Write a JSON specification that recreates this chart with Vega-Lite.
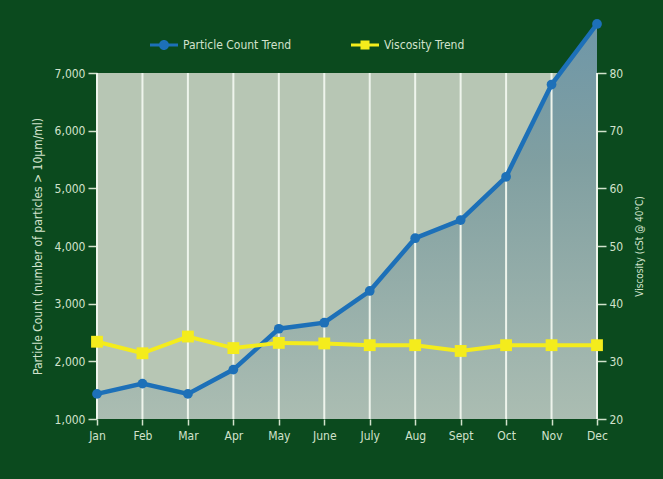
{
  "$schema": "https://vega.github.io/schema/vega-lite/v6.json",
  "width": 500,
  "height": 346,
  "autosize": {"type": "none"},
  "padding": {"left": 97, "top": 73, "right": 66, "bottom": 60},
  "datasets": {
    "trend": [
      {"month": "Jan", "particle": 1435, "viscosity": 33.4},
      {"month": "Feb", "particle": 1614, "viscosity": 31.4},
      {"month": "Mar", "particle": 1435, "viscosity": 34.3},
      {"month": "Apr", "particle": 1857, "viscosity": 32.3},
      {"month": "May", "particle": 2565, "viscosity": 33.2},
      {"month": "June", "particle": 2670, "viscosity": 33.1},
      {"month": "July", "particle": 3220, "viscosity": 32.8},
      {"month": "Aug", "particle": 4135, "viscosity": 32.8},
      {"month": "Sept", "particle": 4450, "viscosity": 31.8},
      {"month": "Oct", "particle": 5200, "viscosity": 32.8},
      {"month": "Nov", "particle": 6800, "viscosity": 32.8},
      {"month": "Dec", "particle": 7850, "viscosity": 32.8}
    ],
    "grid": [
      {"v": 1000}, {"v": 2000}, {"v": 3000}, {"v": 4000}, {"v": 5000}, {"v": 6000}, {"v": 7000}
    ]
  },
  "data": {"name": "trend"},
  "layer": [
    {
      "encoding": {
        "x": {
          "field": "month",
          "type": "ordinal",
          "scale": {"type": "point", "padding": 0, "domain": ["Jan","Feb","Mar","Apr","May","June","July","Aug","Sept","Oct","Nov","Dec"]},
          "axis": {"title": null, "labelAngle": 0, "tickSize": 6, "labelPadding": 5}
        }
      },
      "layer": [
        {
          "mark": {
            "type": "area",
            "fill": {
              "gradient": "linear", "x1": 0, "y1": 0, "x2": 0, "y2": 1,
              "stops": [
                {"offset": 0, "color": "#6f97a8"},
                {"offset": 0.35, "color": "#809fa1"},
                {"offset": 1, "color": "#abbdb2"}
              ]
            }
          },
          "encoding": {
            "y": {
              "field": "particle", "type": "quantitative",
              "scale": {"domain": [1000, 7000], "nice": false, "zero": false},
              "axis": {"orient": "left", "values": [1000,2000,3000,4000,5000,6000,7000], "format": ",d", "tickSize": 9, "labelPadding": 3, "titlePadding": 10, "titleFontSize": 12},
              "title": "Particle Count (number of particles > 10μm/ml)"
            },
            "y2": {"datum": 1000}
          }
        },
        {
          "mark": {"type": "rule", "color": "#eef4ec", "strokeWidth": 2},
          "encoding": {"x": {"field": "month", "type": "ordinal"}}
        },
        {
          "data": {"name": "grid"},
          "mark": {"type": "rule", "color": "#eef4ec", "strokeWidth": 2},
          "encoding": {
            "y": {
              "field": "v", "type": "quantitative",
              "axis": {"orient": "left", "values": [1000,2000,3000,4000,5000,6000,7000], "format": ",d", "tickSize": 9, "labelPadding": 3, "titlePadding": 10, "titleFontSize": 12},
              "title": "Particle Count (number of particles > 10μm/ml)"
            }
          }
        },
        {
          "mark": {"type": "line", "strokeWidth": 4.5, "point": {"filled": true, "size": 95}},
          "encoding": {
            "y": {
              "field": "particle", "type": "quantitative",
              "axis": {"orient": "left", "values": [1000,2000,3000,4000,5000,6000,7000], "format": ",d", "tickSize": 9, "labelPadding": 3, "titlePadding": 10, "titleFontSize": 12},
              "title": "Particle Count (number of particles > 10μm/ml)"
            },
            "color": {
              "datum": "Particle Count Trend",
              "scale": {"domain": ["Particle Count Trend", "Viscosity Trend"], "range": ["#1d70b8", "#f4ec1c"]},
              "legend": {
                "orient": "none", "legendX": 57, "legendY": -38, "direction": "horizontal", "title": null,
                "labelColor": "#d2e2cc", "labelFontSize": 12, "labelFont": "'DejaVu Sans Condensed', 'Liberation Sans', sans-serif",
                "symbolSize": 400, "labelOffset": 9, "columnPadding": 59,
                "encode": {
                  "symbols": {
                    "update": {
                      "shape": {"signal": "datum.value === 'Particle Count Trend' ? 'M-1.4,-0.15H1.4V0.15H-1.4Z M0.5,0A0.5,0.5,0,1,1,-0.5,0A0.5,0.5,0,1,1,0.5,0Z' : 'M-1.4,-0.15H1.4V0.15H-1.4Z M-0.45,-0.45H0.45V0.45H-0.45Z'"},
                      "fill": {"signal": "scale('color', datum.value)"},
                      "stroke": {"value": "transparent"},
                      "strokeWidth": {"value": 0},
                      "opacity": {"value": 1}
                    }
                  }
                }
              }
            }
          }
        }
      ]
    },
    {
      "mark": {"type": "line", "strokeWidth": 4, "point": {"filled": true, "size": 140, "shape": "square"}},
      "encoding": {
        "x": {"field": "month", "type": "ordinal"},
        "y": {
          "field": "viscosity", "type": "quantitative",
          "scale": {"domain": [20, 80], "nice": false, "zero": false},
          "axis": {"orient": "right", "values": [20,30,40,50,60,70,80], "tickSize": 9, "labelPadding": 3, "titleAngle": 270, "titlePadding": 22, "titleFontSize": 10},
          "title": "Viscosity (cSt @ 40°C)"
        },
        "color": {"datum": "Viscosity Trend"}
      }
    }
  ],
  "resolve": {"scale": {"y": "independent"}},
  "config": {
    "background": "#0b4a1e",
    "view": {"fill": "#b7c6b4", "stroke": null},
    "font": "'DejaVu Sans Condensed', 'Liberation Sans', sans-serif",
    "axis": {
      "labelColor": "#d2e2cc", "labelFont": "'DejaVu Sans Condensed', 'Liberation Sans', sans-serif", "labelFontSize": 12,
      "tickColor": "#d2e2cc", "tickWidth": 1.5, "domain": false, "grid": false,
      "titleColor": "#d2e2cc", "titleFont": "'DejaVu Sans Condensed', 'Liberation Sans', sans-serif", "titleFontSize": 11, "titleFontWeight": "normal"
    }
  }
}
